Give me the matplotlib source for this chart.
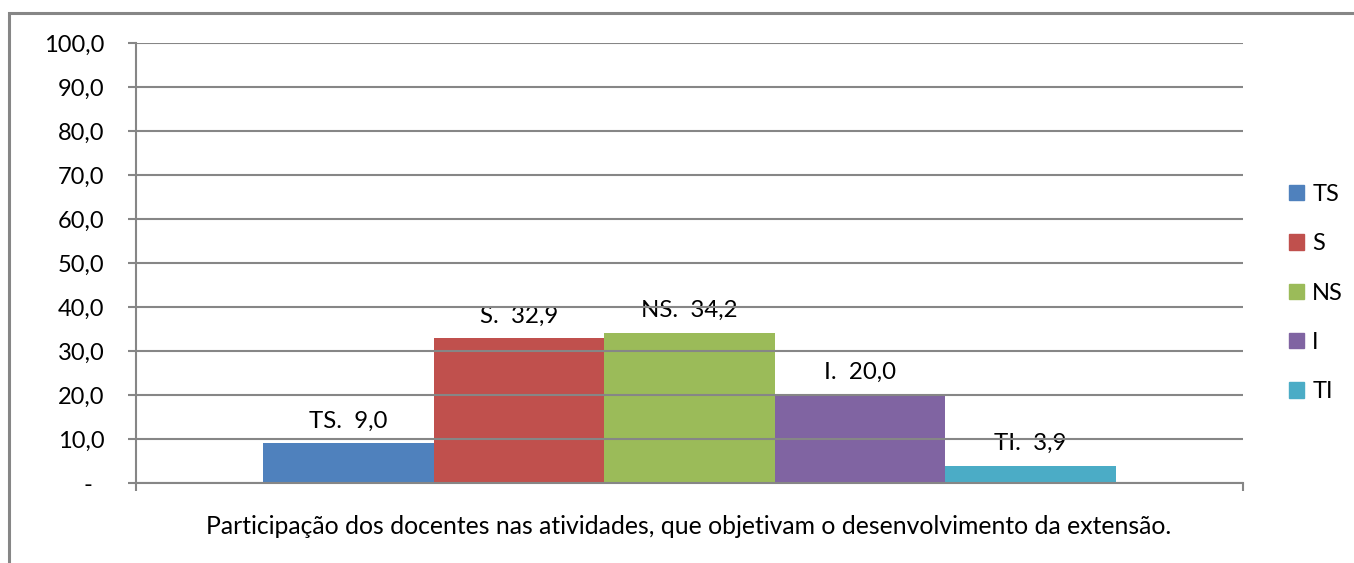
import matplotlib
matplotlib.use("Agg")
import matplotlib.pyplot as plt
from matplotlib.patches import Rectangle, Patch

series = ["TS", "S", "NS", "I", "TI"]
values = [9.0, 32.9, 34.2, 20.0, 3.9]
colors = ["#4F81BD", "#C0504D", "#9BBB59", "#8064A2", "#4BACC6"]
yticks = [0, 10, 20, 30, 40, 50, 60, 70, 80, 90, 100]
xlabel = "Participação dos docentes nas atividades, que objetivam o desenvolvimento da extensão."

plt.rcParams["font.family"] = ["Lato", "DejaVu Sans"]
grid_c = "#868686"

fig = plt.figure(figsize=(13.54, 5.63), dpi=100)
ax = fig.add_axes([136 / 1354, 1 - 483 / 563, 1107 / 1354, 440 / 563])

# outer chart border (only top and left edges show)
fig.patches.append(Rectangle((9 / 1354, -0.2), 1.2, 1.2 - 13 / 563,
                             transform=fig.transFigure, fill=False,
                             edgecolor=grid_c, lw=2.2))

w = 0.1541
for i, (s, v, c) in enumerate(zip(series, values, colors)):
    x = (i - 2) * w
    ax.bar(x, v, w, color=c, zorder=2, label=s)
    ax.annotate(s + ".  " + f"{v:.1f}".replace(".", ","),
                (x, v), xytext=(0, 8.5), textcoords="offset points",
                ha="center", va="bottom", fontsize=17.3, zorder=0.5)

ax.set_xlim(-0.5, 0.5)
ax.set_ylim(0, 100)
ax.set_yticks(yticks)
ax.set_yticklabels(["-  "] + [f"{t:.1f}".replace(".", ",") for t in yticks[1:]], fontsize=17)
ax.set_xticks([-0.5, 0.5])
ax.set_xticklabels([])
ax.tick_params(axis="both", length=8 / 1.389, width=1.5, color=grid_c)
ax.tick_params(axis="y", pad=17)
ax.yaxis.grid(True, color=grid_c, lw=1.5, zorder=1)
ax.set_axisbelow(False)
for sp in ["top", "right"]:
    ax.spines[sp].set_visible(False)
for sp in ["left", "bottom"]:
    ax.spines[sp].set_color(grid_c)
    ax.spines[sp].set_linewidth(1.5)
    ax.spines[sp].set_zorder(1)

fig.text(689 / 1354, 1 - 526 / 563, xlabel, ha="center", va="center", fontsize=17.8)

handles = [Patch(color=c) for c in colors]
fig.legend(handles, series, loc="center left", bbox_to_anchor=(1280 / 1354, 1 - 293 / 563),
           frameon=False, fontsize=17, handlelength=0.62, handleheight=0.62,
           handletextpad=0.35, labelspacing=1.2, borderaxespad=0)

fig.savefig("out.png", dpi=100)
